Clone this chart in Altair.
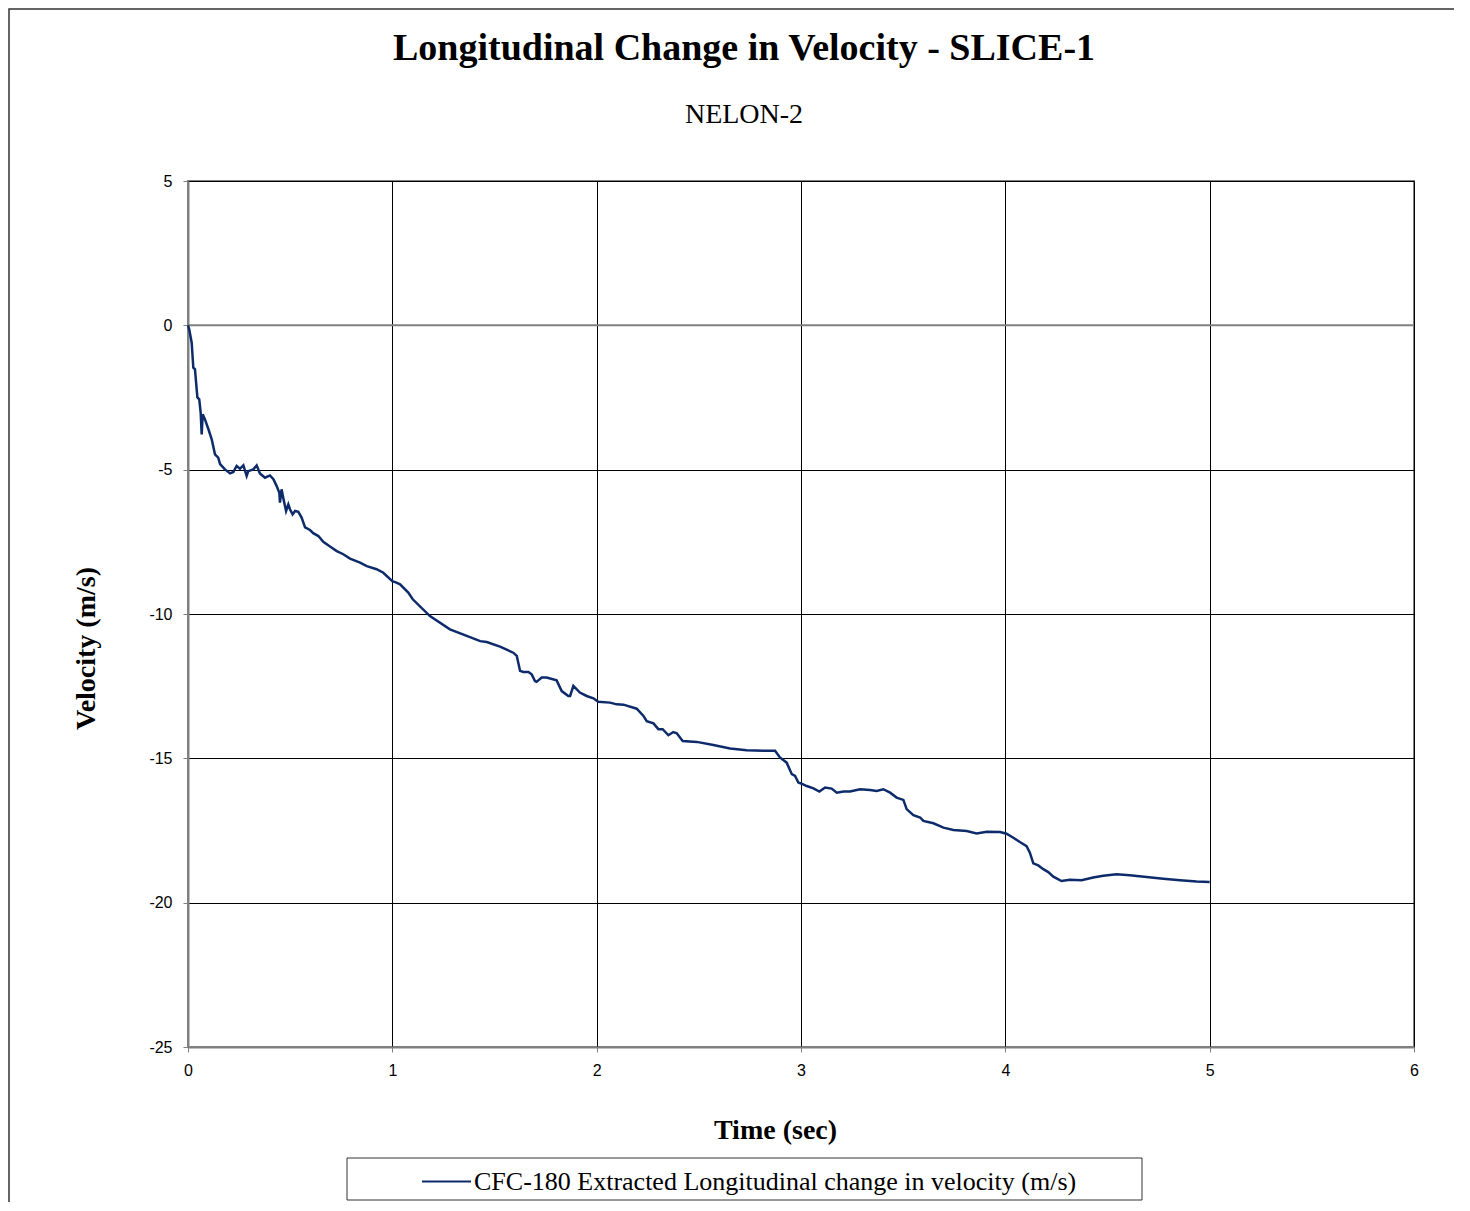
import altair as alt
import pandas as pd

series_name = "CFC-180 Extracted Longitudinal change in velocity (m/s)"
chart_title = "Longitudinal Change in Velocity - SLICE-1"
chart_subtitle = "NELON-2"
x_ticks = [0, 1, 2, 3, 4, 5, 6]
y_ticks = [-25, -20, -15, -10, -5, 0, 5]

time_sec = [
    0, 0.006, 0.018, 0.026, 0.034, 0.046, 0.055, 0.062, 0.067, 0.072,
    0.083, 0.1, 0.116, 0.132, 0.148, 0.157, 0.181, 0.206, 0.222, 0.238,
    0.254, 0.271, 0.287, 0.295, 0.32, 0.336, 0.352, 0.377, 0.401, 0.418,
    0.434, 0.447, 0.45, 0.458, 0.466, 0.48, 0.491, 0.499, 0.512, 0.524,
    0.54, 0.556, 0.573, 0.597, 0.613, 0.638, 0.662, 0.695, 0.728, 0.76,
    0.793, 0.842, 0.875, 0.923, 0.956, 1.0, 1.02, 1.038, 1.078, 1.10,
    1.184, 1.282, 1.364, 1.43, 1.462, 1.527, 1.592, 1.609, 1.625, 1.641,
    1.666, 1.682, 1.698, 1.706, 1.731, 1.755, 1.804, 1.829, 1.861, 1.87,
    1.886, 1.918, 1.951, 1.984, 2.008, 2.065, 2.098, 2.131, 2.196, 2.229,
    2.245, 2.278, 2.302, 2.323, 2.351, 2.375, 2.392, 2.421, 2.49, 2.571,
    2.653, 2.734, 2.816, 2.873, 2.897, 2.93, 2.955, 2.971, 2.987, 3.0,
    3.028, 3.061, 3.09, 3.118, 3.15, 3.175, 3.208, 3.24, 3.289, 3.338,
    3.37, 3.403, 3.436, 3.468, 3.501, 3.517, 3.55, 3.583, 3.599, 3.648,
    3.697, 3.746, 3.811, 3.86, 3.909, 3.974, 4.006, 4.039, 4.071, 4.104,
    4.12, 4.137, 4.161, 4.186, 4.21, 4.235, 4.275, 4.316, 4.373, 4.43,
    4.479, 4.544, 4.609, 4.691, 4.773, 4.855, 4.936, 5.0,
]

velocity = [
    0, -0.14, -0.6, -1.47, -1.52, -2.5, -2.56, -3.02, -3.78, -3.08,
    -3.26, -3.6, -3.95, -4.47, -4.58, -4.81, -4.99, -5.13, -5.08, -4.87,
    -4.97, -4.85, -5.22, -5.05, -4.99, -4.85, -5.13, -5.28, -5.2, -5.33,
    -5.57, -5.8, -6.14, -5.68, -5.97, -6.43, -6.2, -6.37, -6.55, -6.43,
    -6.46, -6.66, -7.0, -7.09, -7.2, -7.3, -7.5, -7.66, -7.82, -7.93,
    -8.08, -8.22, -8.34, -8.45, -8.57, -8.86, -8.91, -8.97, -9.26, -9.49,
    -10.07, -10.53, -10.76, -10.94, -10.97, -11.13, -11.34, -11.45, -11.97, -12.01,
    -12.01, -12.09, -12.32, -12.35, -12.2, -12.2, -12.3, -12.67, -12.84, -12.84,
    -12.49, -12.72, -12.84, -12.92, -13.04, -13.07, -13.13, -13.14, -13.28, -13.53,
    -13.71, -13.79, -13.99, -13.99, -14.2, -14.09, -14.13, -14.4, -14.43, -14.54,
    -14.66, -14.72, -14.74, -14.74, -14.97, -15.15, -15.55, -15.61, -15.84, -15.87,
    -15.96, -16.04, -16.15, -16.01, -16.05, -16.19, -16.15, -16.15, -16.07, -16.1,
    -16.13, -16.07, -16.19, -16.36, -16.44, -16.76, -16.97, -17.05, -17.17, -17.25,
    -17.4, -17.48, -17.52, -17.6, -17.54, -17.55, -17.61, -17.75, -17.9, -18.04,
    -18.27, -18.64, -18.71, -18.84, -18.94, -19.1, -19.25, -19.21, -19.22, -19.13,
    -19.07, -19.02, -19.05, -19.11, -19.17, -19.22, -19.27, -19.28,
]

assert len(time_sec) == len(velocity), (len(time_sec), len(velocity))

df = pd.DataFrame({"t": time_sec, "v": velocity, "series": series_name})
one = pd.DataFrame({"k": [0]})

W, H = 1226, 866
SERIF = "Liberation Serif"
SANS = "Liberation Sans"
LINE_COLOR = "#0d2b6b"

# decorative outer chart frame (Excel chart-area border)
frame = alt.Chart(one).mark_rect(
    fill="white", fillOpacity=0, stroke="#333333", strokeWidth=1.5
).encode(x=alt.value(-179), x2=alt.value(1400), y=alt.value(-172), y2=alt.value(1100))

# decorative legend box
legend_box = alt.Chart(one).mark_rect(
    fill="white", fillOpacity=0, stroke="#333333", strokeWidth=1
).encode(x=alt.value(159), x2=alt.value(954), y=alt.value(977), y2=alt.value(1019))

zero_line = alt.Chart(one).mark_rule(color="#808080", strokeWidth=2).encode(
    y=alt.datum(0)
)

x_enc = alt.X(
    "t:Q",
    scale=alt.Scale(domain=[0, 6], nice=False, zero=False),
    axis=alt.Axis(
        values=x_ticks,
        title="Time (sec)",
        titleX=587,
        titleY=91,
        titleAlign="center",
        titleBaseline="alphabetic",
        format="d",
        labelFlush=False,
        labelPadding=10,
    ),
)
y_enc = alt.Y(
    "v:Q",
    scale=alt.Scale(domain=[-25, 5], nice=False, zero=False),
    axis=alt.Axis(
        values=y_ticks,
        title="Velocity (m/s)",
        titleAngle=270,
        titleX=-94,
        titleY=467,
        titleAlign="center",
        titleBaseline="alphabetic",
        labelExpr="datum.value + ''",
        labelFlush=False,
        labelPadding=11,
    ),
)

line = alt.Chart(df).mark_line(strokeWidth=2.5).encode(
    x=x_enc,
    y=y_enc,
    color=alt.Color(
        "series:N",
        scale=alt.Scale(domain=[series_name], range=[LINE_COLOR]),
        legend=alt.Legend(
            title=None,
            orient="none",
            legendX=233,
            legendY=975,
            symbolType="stroke",
            symbolStrokeWidth=2,
            symbolSize=2401,
            labelFont=SERIF,
            labelFontSize=26,
            labelColor="black",
            labelOffset=2,
            labelLimit=900,
            padding=0,
        ),
    ),
)

chart = alt.layer(frame, legend_box, zero_line, line).properties(
    width=W,
    height=H,
    title=alt.Title(
        text=chart_title,
        subtitle=chart_subtitle,
        font=SERIF,
        fontSize=38,
        fontWeight="bold",
        color="black",
        subtitleFont=SERIF,
        subtitleFontSize=28,
        subtitleColor="black",
        subtitlePadding=33,
        anchor="middle",
        dx=-57,
        offset=-121,
    ),
    autosize=alt.AutoSizeParams(type="none"),
    padding={"left": 180, "top": 173, "right": 40, "bottom": 155},
).configure(
    background="white"
).configure_view(
    stroke="#808080", strokeWidth=2
).configure_axis(
    grid=True,
    gridColor="black",
    gridWidth=1,
    domainColor="#808080",
    domainWidth=2,
    tickColor="#808080",
    tickSize=5,
    labelFont=SANS,
    labelFontSize=16,
    labelColor="black",
    labelPadding=8,
    titleFont=SERIF,
    titleFontSize=28,
    titleFontWeight="bold",
    titleColor="black",
)

chart.save("out.html", embed_options={"renderer": "svg", "actions": False})
